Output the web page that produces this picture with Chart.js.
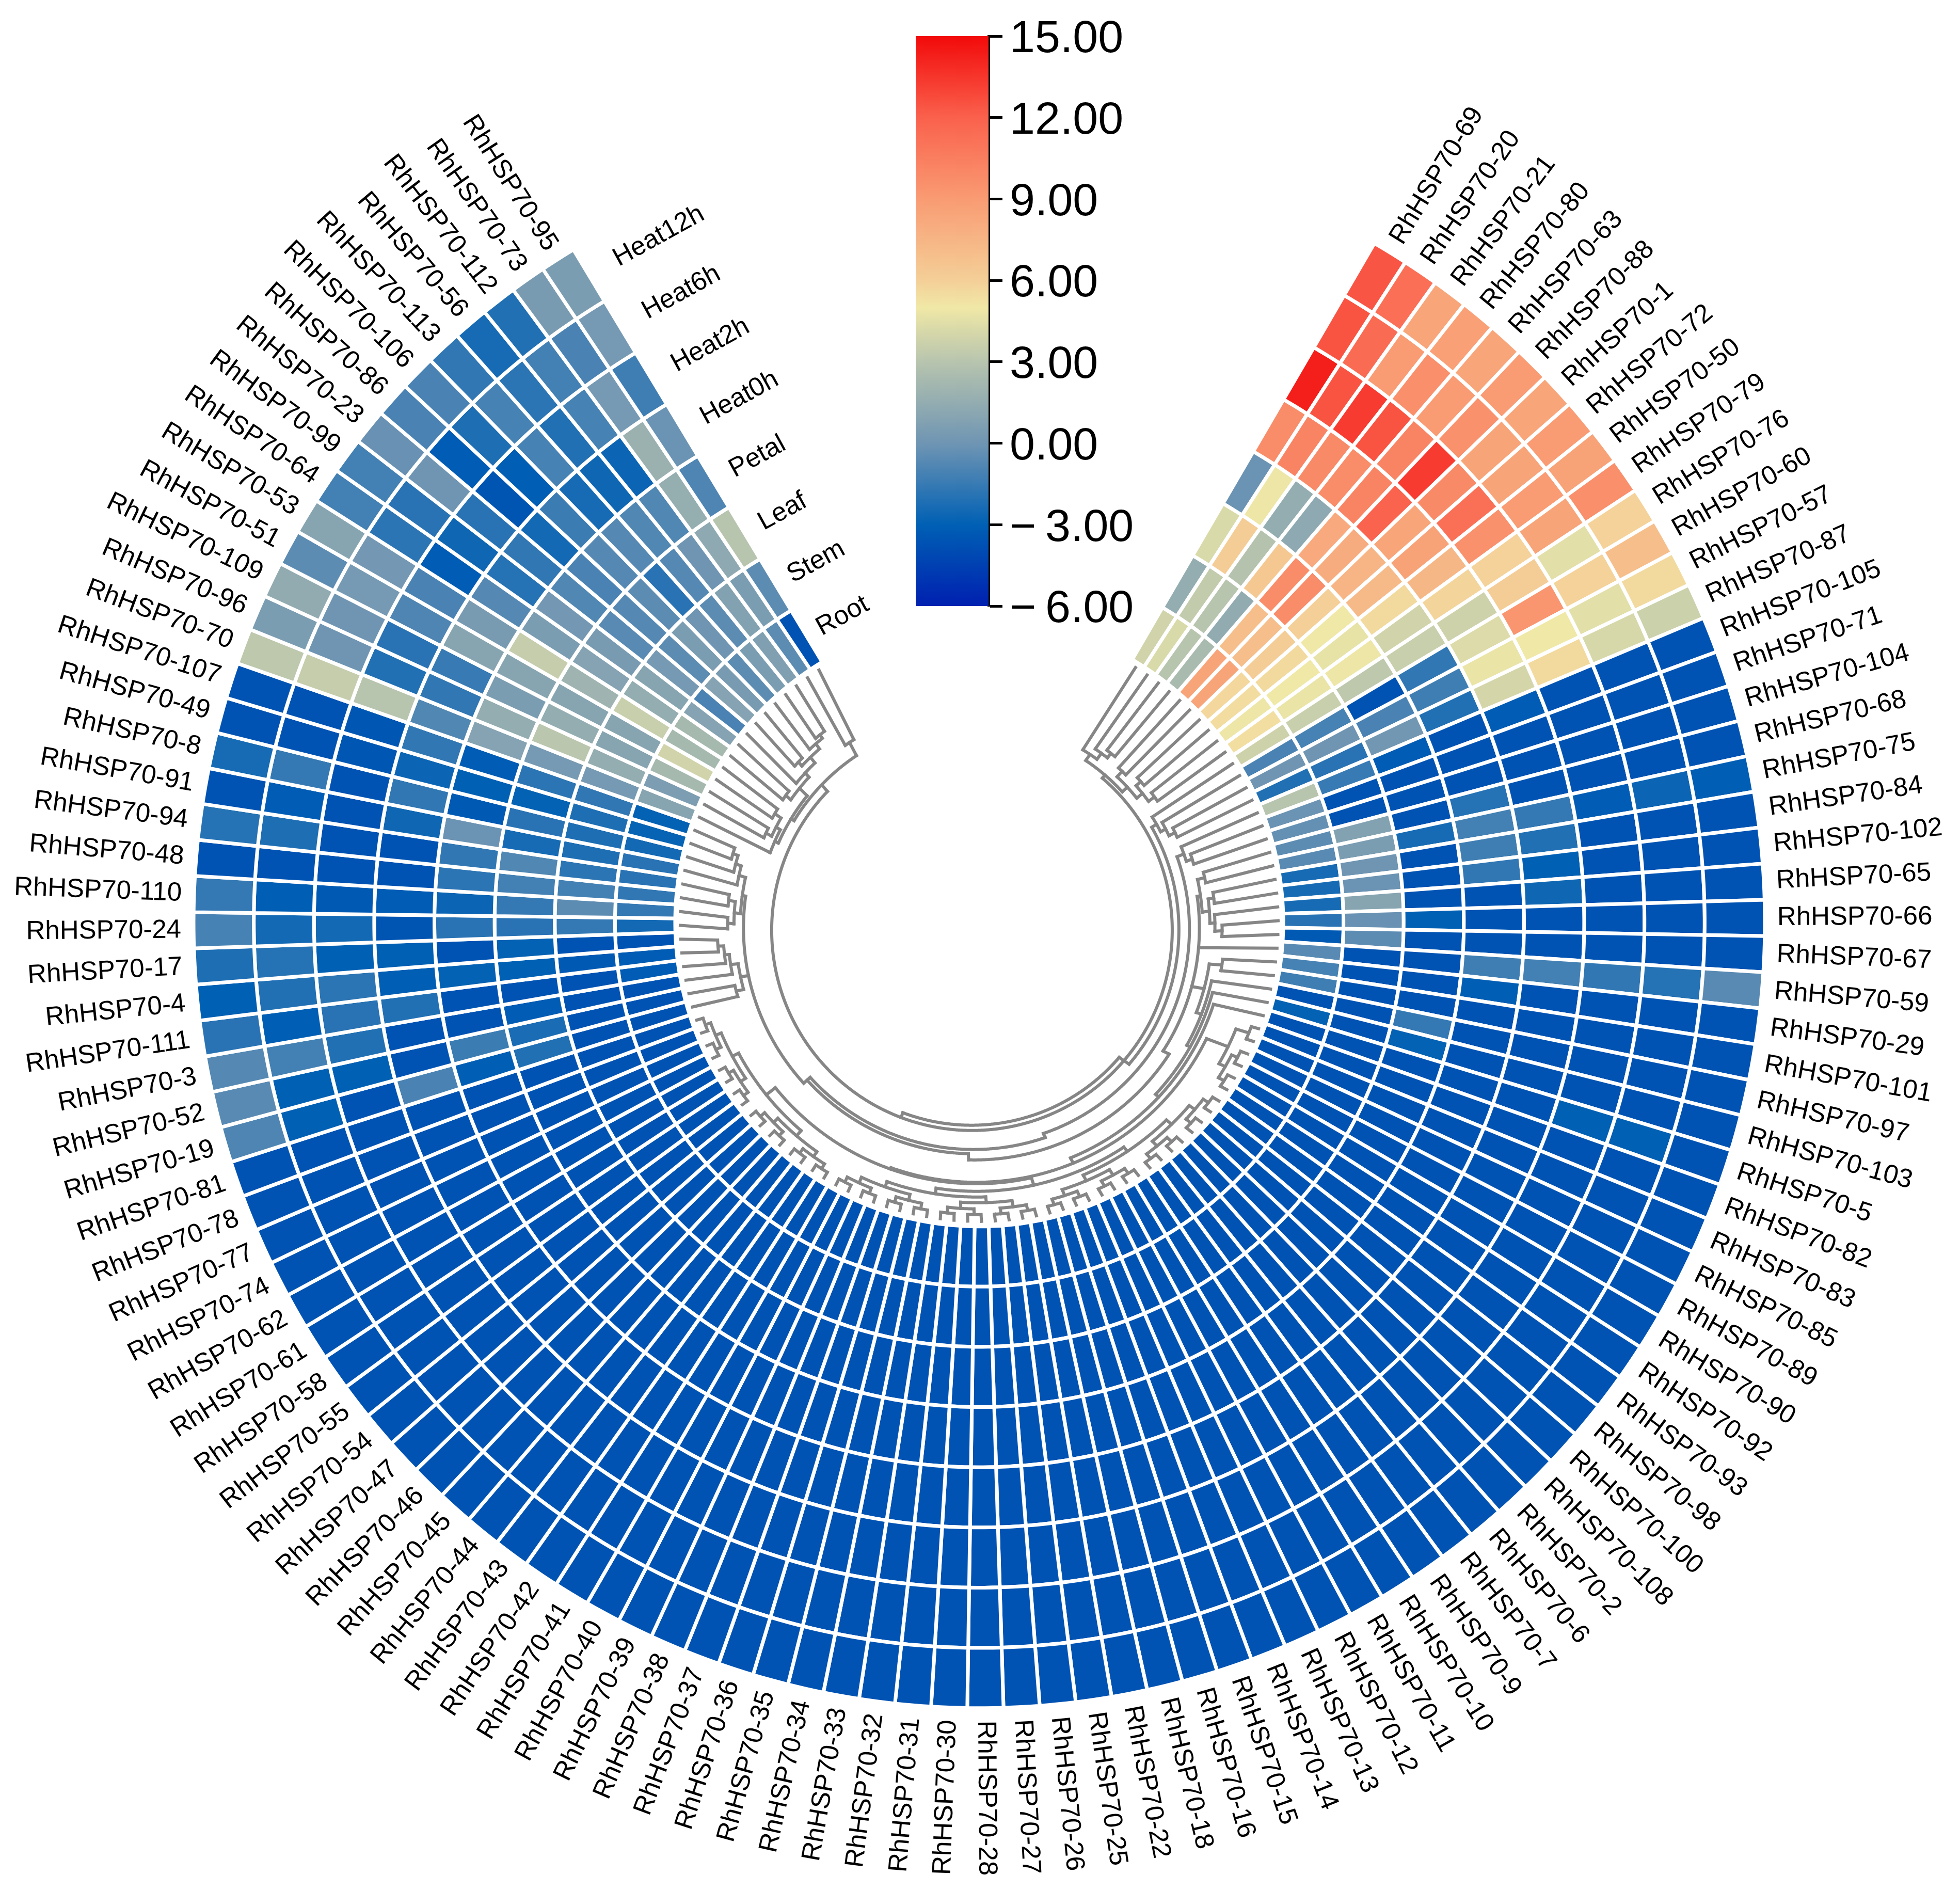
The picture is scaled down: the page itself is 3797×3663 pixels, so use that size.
<!DOCTYPE html>
<html>
<head>
<meta charset="utf-8">
<title>RhHSP70 heatmap</title>
<script src="https://cdn.jsdelivr.net/npm/chart.js@4/dist/chart.umd.js"></script>
<style>
    html, body { margin: 0; padding: 0; background: #fff; }
    #page { position: relative; width: 3797px; height: 3663px; overflow: hidden; }
    #heatmap { position: absolute; left: 0; top: 0; }
    #colorbar { position: absolute; left: 1774px; top: 0; }
</style>
</head>
<body>
<div id="page">
    <canvas id="heatmap" width="3797" height="3663"></canvas>
    <canvas id="colorbar" width="500" height="1250"></canvas>
</div>
<script>
const genes = [69, 20, 21, 80, 63, 88, 1, 72, 50, 79, 76, 60, 57, 87, 105, 71, 104, 68, 75, 84, 102, 65, 66, 67, 59, 29, 101, 97, 103, 5,
    82, 83, 85, 89, 90, 92, 93, 98, 100, 108, 2, 6, 7, 9, 10, 11, 12, 13, 14, 15, 16, 18, 22, 25, 26, 27, 28, 30, 31, 32,
    33, 34, 35, 36, 37, 38, 39, 40, 41, 42, 43, 44, 45, 46, 47, 54, 55, 58, 61, 62, 74, 77, 78, 81, 19, 52, 3, 111, 4, 17,
    24, 110, 48, 94, 91, 8, 49, 107, 70, 96, 109, 51, 53, 64, 99, 23, 86, 106, 113, 56, 112, 73, 95].map(n => 'RhHSP70-' + n);

const tissues = ['Root', 'Stem', 'Leaf', 'Petal', 'Heat0h', 'Heat2h', 'Heat6h', 'Heat12h'];

const root = [3.9, 4.2, 3.0, 2.4, 8.5, 8.5, 5.7, 5.5, 4.9, 5.4,
    3.8, -1.0, 0, -2.1, 3.0, -0.1, -0.3, -0.5, -0.6, -2.4,
    -2.4, -2.4, -1.9, -3.3, -0.6, -1.1, -1.3, -3.6, -2.9, -3.6,
    -3.6, -3.6, -3.6, -3.6, -3.6, -3.6, -3.6, -3.6, -3.6, -3.6,
    -3.6, -3.6, -3.6, -3.6, -3.6, -3.6, -3.6, -3.6, -3.6, -3.6,
    -3.6, -3.6, -3.6, -3.6, -3.6, -3.6, -3.6, -3.6, -3.6, -3.6,
    -3.6, -3.6, -3.6, -3.6, -3.6, -3.6, -3.6, -3.6, -3.6, -3.6,
    -3.6, -3.6, -3.6, -3.6, -3.6, -3.6, -3.6, -3.6, -3.6, -3.6,
    -3.6, -3.6, -3.6, -3.6, -3.6, -3.6, -3.6, -3.2, -3.2, -3.6,
    -2.5, -1.6, -1.7, -1.9, -1.9, -2.5, -2.8, -2.9, 1.0, 0.6,
    2.3, 3.9, 2.3, 2.3, 0.9, -1.0, 0.9, 0.4, -0.5, 0.5,
    0.7, -0.5, -3.6];

const stem = [1.5, 3.4, 3.0, 1.4, 7.0, 7.0, 6.2, 5.6, 5.0, 4.8,
    3.6, -1.1, 0, -1.9, -1.5, -3.6, -3.6, 0.8, 0.5, 0,
    -0.1, 1.0, -0.2, -0.5, -3.6, -3.6, -3.6, -3.6, -3.6, -3.6,
    -3.6, -3.6, -3.6, -3.6, -3.6, -3.6, -3.6, -3.6, -3.6, -3.6,
    -3.6, -3.6, -3.6, -3.6, -3.6, -3.6, -3.6, -3.6, -3.6, -3.6,
    -3.6, -3.6, -3.6, -3.6, -3.6, -3.6, -3.6, -3.6, -3.6, -3.6,
    -3.6, -3.6, -3.6, -3.6, -3.6, -3.6, -3.6, -3.6, -3.6, -3.6,
    -3.6, -3.6, -3.6, -3.6, -3.6, -3.6, -3.6, -3.6, -3.6, -3.6,
    -3.6, -3.6, -3.6, -3.6, -3.6, -3.6, -3.6, -3.6, -3.3, -3.6,
    -1.6, -0.5, -1.2, -1.8, -2.2, -2.2, -2.2, -1.7, 0.3, 1.5,
    1.0, 1.0, 3.6, 1.5, 1.0, 0.3, -0.5, 0.5, 0, -0.5,
    0.8, 0.5, -0.5];

const leaf = [4.2, 6.2, 2.9, 6.4, 9.8, 9.8, 6.0, 5.0, 4.7, 4.9,
    3.2, -3.6, -1.0, 0.1, -3.2, -3.6, -3.6, -3.6, -2.4, -3.6,
    -3.6, -3.6, -3.0, -3.6, -3.6, -3.6, -3.6, -1.6, -2.9, -3.6,
    -3.6, -3.6, -3.6, -3.6, -3.6, -3.6, -3.6, -3.6, -3.6, -3.6,
    -3.6, -3.6, -3.6, -3.6, -3.6, -3.6, -3.6, -3.6, -3.6, -3.6,
    -3.6, -3.6, -3.6, -3.6, -3.6, -3.6, -3.6, -3.6, -3.6, -3.6,
    -3.6, -3.6, -3.6, -3.6, -3.6, -3.6, -3.6, -3.6, -3.6, -3.6,
    -3.6, -3.6, -3.6, -3.6, -3.6, -3.6, -3.6, -3.6, -3.6, -3.6,
    -3.6, -3.6, -3.6, -3.6, -2.1, -2.3, -3.2, -3.6, -3.0, -2.9,
    -1.9, -1.6, -1.2, -0.8, -2.4, -1.9, -2.9, -1.8, 0.3, 3.1,
    1.5, 1.0, 2.0, 0.9, 0.4, -0.6, -0.7, -0.5, -1.9, -0.7,
    0, 1.3, 3.0];

const petal = [-0.1, 4.9, 1.5, 1.3, 8.2, 8.0, 7.5, 7.2, 5.6, 3.9,
    3.6, -1.7, -1.3, -2.1, -3.6, -3.6, -3.6, -2.0, -1.2, -1.3,
    -1.7, -3.6, -3.6, -3.6, -1.3, -3.1, -3.6, -3.6, -3.6, -3.6,
    -3.6, -3.6, -3.6, -3.6, -3.6, -3.6, -3.6, -3.6, -3.6, -3.6,
    -3.6, -3.6, -3.6, -3.6, -3.6, -3.6, -3.6, -3.6, -3.6, -3.6,
    -3.6, -3.6, -3.6, -3.6, -3.6, -3.6, -3.6, -3.6, -3.6, -3.6,
    -3.6, -3.6, -3.6, -3.6, -3.6, -3.6, -3.6, -3.6, -3.6, -3.6,
    -3.6, -3.6, -3.6, -3.6, -3.6, -3.6, -3.6, -3.6, -3.6, -3.6,
    -3.6, -3.6, -3.6, -3.6, -3.1, -1.4, -3.6, -3.6, -2.9, -3.6,
    -1.9, -2.7, -1.8, -1.7, -0.1, -3.3, -3.0, -3.2, 0.9, 1.5,
    0.5, 1.0, 3.5, 0.5, 0.2, -0.8, -1.0, -0.7, -0.7, -0.8,
    -0.8, 1.6, -0.9];

const heat0h = [9.8, 10.2, 9.9, 9.8, 10.2, 11.9, 8.4, 8.6, 7.4, 5.8,
    3.8, 4.3, 4.8, 4.0, -3.2, -3.6, -3.6, -3.6, -1.6, -2.1,
    -3.0, -2.6, -3.6, -3.6, -1.2, -3.6, -3.6, -3.6, -3.6, -3.6,
    -3.6, -3.6, -3.6, -3.6, -3.6, -3.6, -3.6, -3.6, -3.6, -3.6,
    -3.6, -3.6, -3.6, -3.6, -3.6, -3.6, -3.6, -3.6, -3.6, -3.6,
    -3.6, -3.6, -3.6, -3.6, -3.6, -3.6, -3.6, -3.6, -3.6, -3.6,
    -3.6, -3.6, -3.6, -3.6, -3.6, -3.6, -3.6, -3.6, -3.6, -3.6,
    -3.6, -3.6, -3.6, -3.6, -3.6, -3.6, -3.6, -3.6, -3.6, -3.6,
    -3.6, -3.6, -3.6, -3.6, -1.0, -3.6, -3.6, -2.1, -3.1, -3.0,
    -3.5, -3.2, -3.6, -3.6, -2.6, -1.7, -2.7, -1.7, -0.8, -1.7,
    -1.5, 1.0, 0.4, -0.7, -2.0, -1.7, -2.5, -1.4, -2.4, -2.6,
    -2.7, 1.8, -0.1];

const heat2h = [14.3, 12.5, 13.3, 12.5, 10.2, 13.3, 9.9, 11.2, 9.5, 5.9,
    6.2, 9.3, 5.0, 5.6, -3.6, -3.6, -3.6, -3.6, -3.2, -3.6,
    -3.6, -3.6, -3.6, -3.6, -1.7, -3.6, -3.6, -3.6, -3.6, -3.0,
    -3.6, -3.6, -3.6, -3.6, -3.6, -3.6, -3.6, -3.6, -3.6, -3.6,
    -3.6, -3.6, -3.6, -3.6, -3.6, -3.6, -3.6, -3.6, -3.6, -3.6,
    -3.6, -3.6, -3.6, -3.6, -3.6, -3.6, -3.6, -3.6, -3.6, -3.6,
    -3.6, -3.6, -3.6, -3.6, -3.6, -3.6, -3.6, -3.6, -3.6, -3.6,
    -3.6, -3.6, -3.6, -3.6, -3.6, -3.6, -3.6, -3.6, -3.6, -3.6,
    -3.6, -3.6, -3.6, -3.6, -3.6, -3.0, -2.1, -1.9, -1.8, -3.0,
    -2.5, -3.3, -3.6, -3.6, -3.6, -3.6, -3.4, -3.4, 3.0, -2.1,
    -1.9, -0.9, -1.0, -3.2, -2.6, -1.9, -3.5, -3.1, -1.1, -2.1,
    -1.1, 0.3, -1.3];

const heat6h = [12.5, 11.5, 9.0, 9.6, 9.0, 9.5, 8.5, 8.5, 9.0, 8.5,
    4.5, 5.9, 4.5, 4.1, -3.6, -3.6, -3.6, -3.6, -2.7, -3.6,
    -3.6, -3.6, -3.6, -3.6, -2.0, -3.6, -3.6, -3.6, -3.6, -3.0,
    -3.6, -3.6, -3.6, -3.6, -3.6, -3.6, -3.6, -3.6, -3.6, -3.6,
    -3.6, -3.6, -3.6, -3.6, -3.6, -3.6, -3.6, -3.6, -3.6, -3.6,
    -3.6, -3.6, -3.6, -3.6, -3.6, -3.6, -3.6, -3.6, -3.6, -3.6,
    -3.6, -3.6, -3.6, -3.6, -3.6, -3.6, -3.6, -3.6, -3.6, -3.6,
    -3.6, -3.6, -3.6, -3.6, -3.6, -3.6, -3.6, -3.6, -3.6, -3.6,
    -3.6, -3.6, -3.6, -3.6, -3.0, -3.0, -1.2, -3.1, -2.1, -2.0,
    -2.5, -3.1, -3.6, -2.2, -3.2, -1.6, -3.6, -3.6, 3.5, 0,
    0, 0.3, 0.2, -1.8, -1.9, 0, -3.2, -2.2, -1.1, -1.8,
    -1.2, -1.0, 0.3];

const heat12h = [12.4, 11.3, 8.4, 8.7, 8.4, 9.0, 8.4, 9.0, 8.6, 9.6,
    5.9, 7.0, 5.6, 3.7, -3.6, -3.6, -3.6, -3.6, -3.1, -3.6,
    -3.6, -3.6, -3.6, -3.6, -0.6, -3.6, -3.6, -3.6, -3.6, -3.6,
    -3.6, -3.6, -3.6, -3.6, -3.6, -3.6, -3.6, -3.6, -3.6, -3.6,
    -3.6, -3.6, -3.6, -3.6, -3.6, -3.6, -3.6, -3.6, -3.6, -3.6,
    -3.6, -3.6, -3.6, -3.6, -3.6, -3.6, -3.6, -3.6, -3.6, -3.6,
    -3.6, -3.6, -3.6, -3.6, -3.6, -3.6, -3.6, -3.6, -3.6, -3.6,
    -3.6, -3.6, -3.6, -3.6, -3.6, -3.6, -3.6, -3.6, -3.6, -3.6,
    -3.6, -3.6, -3.6, -3.6, -0.9, -0.6, -0.7, -1.9, -3.0, -2.2,
    -1.1, -1.6, -3.6, -2.0, -3.6, -2.4, -3.6, -3.6, 3.2, 0.5,
    1.4, -0.5, 1.0, -1.2, -1.2, -0.2, -1.0, -1.0, -1.7, -2.4,
    -2.1, 0.4, 0.5];

const colorStops = [[-6, '#0020B0'], [-3, '#0060B4'], [0, '#6F95B3'], [3, '#B7C4AE'], [5, '#F0E8A6'],
    [6, '#F4CF97'], [9, '#F99B73'], [12, '#FA614D'], [15, '#F20A0A']];

// Dendrogram: a node is [height radius, child, child], a plain number is a gene position
const pair = (a, b) => [565, a, b];
const quad = (p1, p2, p3, p4) => [540, [553, p1, p2], [553, p3, p4]];

const groupH1 = quad(pair(82, 83), pair(80, 81), pair(78, 79), pair(76, 77));
const groupH2 = quad(pair(74, 75), pair(72, 73), pair(70, 71), pair(68, 69));
const groupH3 = quad(pair(66, 67), pair(64, 65), pair(62, 63), pair(60, 61));
const groupH4 = quad(pair(58, 59), pair(56, 57), pair(54, 55), pair(52, 53));
const groupH5 = quad(pair(50, 51), pair(48, 49), pair(46, 47), pair(44, 45));
const groupH6 = quad(pair(42, 43), pair(40, 41), pair(38, 39), pair(36, 37));
const groupH7 = [540, [553, pair(34, 35), pair(32, 33)], pair(30, 31)];
const bottomTree = [460, [483, 25, 26], [470, 27, [477, 28, [485, 29, [497, groupH7,
    [500, [525, groupH1, groupH2], [516, [528, groupH3, groupH4], [527, groupH5, groupH6]]]]]]]];

const topRightTree = [395, [408, 0, [421, 1, [431, 2, 3]]], [407, [420, 4, 5], [420, [431, 6, 7], [433, 8, 9]]]];
const rightTreeA = [410, 10, [420, 11, [432, 12, 13]]];
const rightTreeB = [432, 14, [443, 15, 16]];
const rightTreeC = [443, [456, 17, 18], [456, [466, 19, 20], [465, 21, [478, 22, 23]]]];
const leftTreeA = [464, [480, [490, [502, 89, 88], 87], 86], [480, 85, 84]];
const leftTreeB = [454, [468, [480, [491, 97, 96], 95], 94], [467, [481, 93, 92], [480, 91, 90]]];
const topLeftTree = [405, [433, 111, 112], [412,
    [433, [446, 104, 103], [444, 105, [458, [468, 107, 106], [470, 108, [478, 110, 109]]]]],
    [420, 98, [430, [445, 102, 101], [443, 100, 99]]]]];

// subtree and the radius of the long arc it hangs from
const treeParts = [[topRightTree, 388], [rightTreeA, 400], [rightTreeB, 419], [rightTreeC, 437], [24, 437],
    [bottomTree, 437], [leftTreeA, 447], [leftTreeB, 447], [topLeftTree, 388]];
// long arcs as [from gene position, to gene position, radius]
const longArcs = [[37.5, 64, 377], [3.44, 106.8, 388], [10.9, 37.5, 400], [14.75, 49, 419], [49, 74.2, 428],
    [56.7, 74.2, 437], [74.2, 93.2, 447], [19.06, 34.6, 437], [34.6, 56.7, 450]];
// short links between long arcs as [gene position, radius, radius]
const longStems = [[37.5, 377, 400], [64, 377, 388], [49, 419, 428], [74.2, 428, 447], [56.7, 437, 450], [34.6, 437, 450]];

function colorFor(value) {
    let i = 0;
    while (i < colorStops.length - 2 && value > colorStops[i + 1][0]) i++;
    const [v0, c0] = colorStops[i];
    const [v1, c1] = colorStops[i + 1];
    const t = Math.min(Math.max((value - v0) / (v1 - v0), 0), 1);
    const channel = (c, at) => parseInt(c.substr(at, 2), 16);
    const mix = at => Math.round(channel(c0, at) + (channel(c1, at) - channel(c0, at)) * t);
    return `rgb(${mix(1)},${mix(3)},${mix(5)})`;
}

const ROTATION = 30.2;
const SWEEP = 298.7;
const FONT = '"Liberation Sans", Arial, sans-serif';

const labelsPlugin = {
    id: 'ringLabels',
    afterDatasetsDraw(chart) {
        const ctx = chart.ctx;
        const outerArc = chart.getDatasetMeta(0).data[0];
        const { x, y, outerRadius } = outerArc;
        const step = SWEEP / genes.length;

        ctx.save();
        ctx.fillStyle = '#000';
        ctx.font = `51px ${FONT}`;
        ctx.textBaseline = 'middle';

        genes.forEach((gene, i) => {
            const deg = ROTATION + (i + 0.5) * step;
            const rad = deg * Math.PI / 180;
            const r = outerRadius + 24;
            ctx.save();
            ctx.translate(x + r * Math.sin(rad), y - r * Math.cos(rad));
            if (deg <= 180) {
                ctx.rotate((deg - 90) * Math.PI / 180);
                ctx.textAlign = 'left';
            } else {
                ctx.rotate((deg + 90) * Math.PI / 180);
                ctx.textAlign = 'right';
            }
            ctx.fillText(gene, 0, 0);
            ctx.restore();
        });

        // tissue names sit past the last gene, one per ring
        const labelDeg = ROTATION + SWEEP + 2.3;
        const labelRad = labelDeg * Math.PI / 180;
        tissues.forEach((tissue, k) => {
            const arc = chart.getDatasetMeta(tissues.length - 1 - k).data[0];
            const r = (arc.innerRadius + arc.outerRadius) / 2;
            ctx.save();
            ctx.translate(x + r * Math.sin(labelRad), y - r * Math.cos(labelRad));
            ctx.rotate((labelDeg - 360) * Math.PI / 180);
            ctx.textAlign = 'left';
            ctx.fillText(tissue, 0, 0);
            ctx.restore();
        });
        ctx.restore();
    }
};

const treePlugin = {
    id: 'dendrogram',
    afterDatasetsDraw(chart) {
        const ctx = chart.ctx;
        const { x, y } = chart.getDatasetMeta(0).data[0];
        const step = SWEEP / genes.length;
        const leafTip = 579;

        // deeper arcs of the reference sit slightly off the ring centre
        const point = (pos, r) => {
            const rad = (ROTATION + (pos + 0.5) * step) * Math.PI / 180;
            const depth = (leafTip - r) / 190;
            return [x - 14 * depth + r * Math.sin(rad), y + 15 * depth - r * Math.cos(rad)];
        };
        const radial = (pos, r1, r2) => {
            ctx.beginPath();
            ctx.moveTo(...point(pos, r1));
            ctx.lineTo(...point(pos, r2));
            ctx.stroke();
        };
        const arc = (from, to, r) => {
            const a = Math.min(from, to);
            const b = Math.max(from, to);
            ctx.beginPath();
            ctx.moveTo(...point(a, r));
            for (let p = a; p < b; p += 0.1) ctx.lineTo(...point(p, r));
            ctx.lineTo(...point(b, r));
            ctx.stroke();
        };
        const walk = node => {
            if (typeof node === 'number') return { pos: node, r: leafTip };
            const [r, first, second] = node;
            const a = walk(first);
            const b = walk(second);
            radial(a.pos, a.r, r);
            radial(b.pos, b.r, r);
            arc(a.pos, b.pos, r);
            return { pos: (a.pos + b.pos) / 2, r };
        };

        ctx.save();
        ctx.strokeStyle = '#868686';
        ctx.lineWidth = 6;
        ctx.lineCap = 'square';
        ctx.lineJoin = 'miter';
        treeParts.forEach(([tree, parentR]) => {
            const top = walk(tree);
            radial(top.pos, top.r, parentR);
        });
        longArcs.forEach(([from, to, r]) => arc(from, to, r));
        longStems.forEach(([pos, r1, r2]) => radial(pos, r1, r2));
        ctx.restore();
    }
};

function drawHeatmap() {
    const rings = [heat12h, heat6h, heat2h, heat0h, petal, leaf, stem, root];
    const ringNames = tissues.slice().reverse();

    new Chart(document.getElementById('heatmap').getContext('2d'), {
        type: 'doughnut',
        data: {
            labels: genes,
            datasets: rings.map((values, k) => ({
                label: ringNames[k],
                data: values.map(() => 1),
                backgroundColor: values.map(colorFor),
                borderColor: '#ffffff',
                borderWidth: 7
            }))
        },
        options: {
            responsive: false,
            animation: false,
            devicePixelRatio: 1,
            rotation: ROTATION,
            circumference: SWEEP,
            radius: 1522,
            cutout: '38.7%',
            layout: { padding: { top: 117, right: 3 } },
            plugins: { legend: { display: false }, tooltip: { enabled: false } }
        },
        plugins: [treePlugin, labelsPlugin]
    });
}

function drawColorbar() {
    const chart = new Chart(document.getElementById('colorbar').getContext('2d'), {
        type: 'bar',
        data: {
            labels: [''],
            datasets: [{
                data: [[-6, 15]],
                barPercentage: 1,
                categoryPercentage: 1,
                backgroundColor(context) {
                    const scale = context.chart.scales.y;
                    const bottom = scale ? scale.getPixelForValue(-6) : NaN;
                    const top = scale ? scale.getPixelForValue(15) : NaN;
                    // scale has no pixels yet on the very first pass
                    if (!isFinite(bottom) || !isFinite(top)) return '#888888';
                    const gradient = context.chart.ctx.createLinearGradient(0, bottom, 0, top);
                    colorStops.forEach(([v, c]) => gradient.addColorStop((v + 6) / 21, c));
                    return gradient;
                }
            }]
        },
        options: {
            responsive: false,
            animation: false,
            devicePixelRatio: 1,
            layout: { padding: { top: 70, bottom: 76 } },
            plugins: { legend: { display: false }, tooltip: { enabled: false } },
            scales: {
                x: { display: false },
                y: {
                    position: 'right',
                    min: -6,
                    max: 15,
                    afterFit(scale) { scale.width = 359; },
                    border: { color: '#000', width: 5 },
                    grid: { drawOnChartArea: false, tickColor: '#000', tickWidth: 5, tickLength: 27 },
                    ticks: {
                        stepSize: 3,
                        color: '#000',
                        padding: 14,
                        labelOffset: 7,
                        font: { family: FONT, size: 88 },
                        callback: v => (v < 0 ? '\u2212\u2009' : '') + Math.abs(v).toFixed(2)
                    }
                }
            }
        }
    });
    chart.update();
}

document.addEventListener('DOMContentLoaded', function() {
    drawHeatmap();
    drawColorbar();
});
</script>
</body>
</html>
